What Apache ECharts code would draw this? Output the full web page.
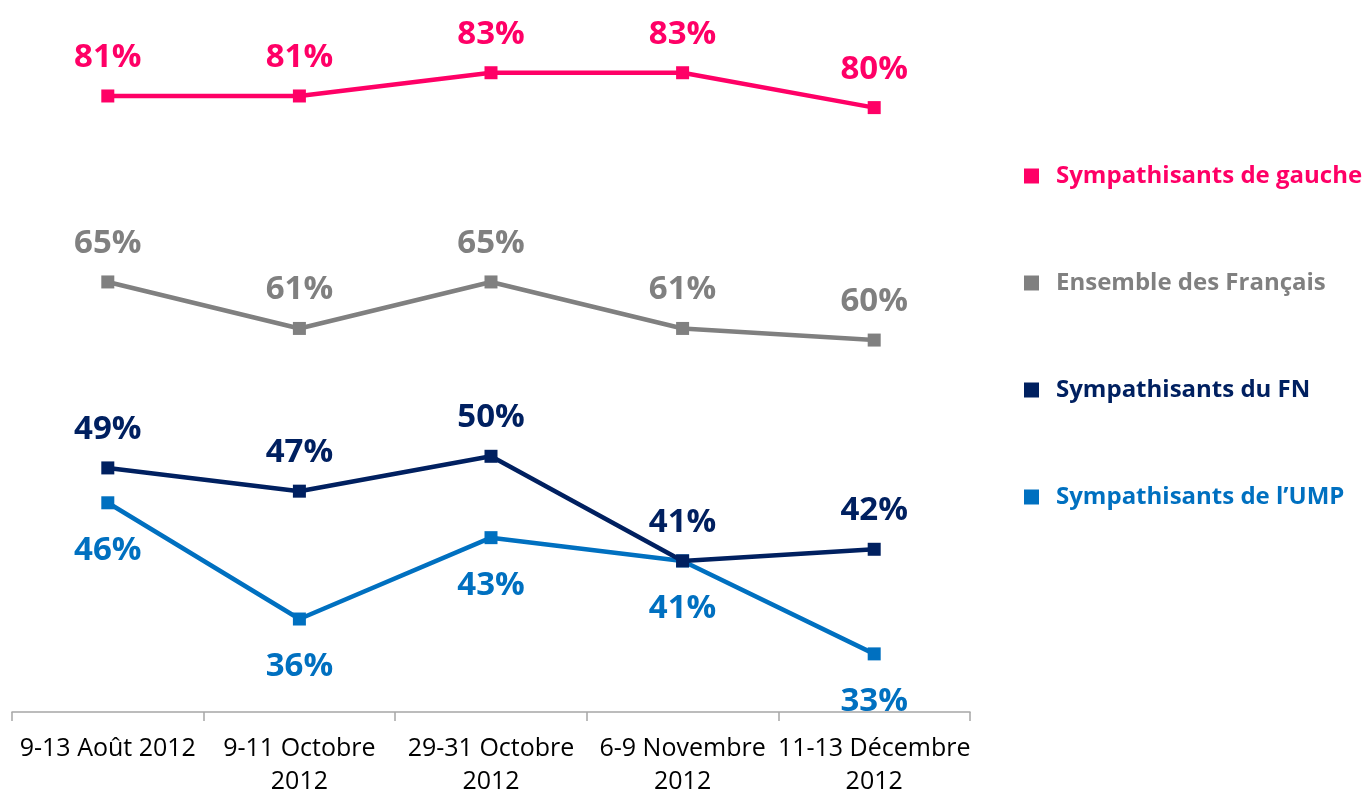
<!DOCTYPE html>
<html>
<head>
<meta charset="utf-8">
<script src="https://cdn.jsdelivr.net/npm/echarts@6/dist/echarts.min.js"></script>
<style>
  html, body { margin: 0; padding: 0; background: #fff; }
  #chart { width: 1367px; height: 793px; }
</style>
</head>
<body>
<div id="chart"></div>
<script>
// dates des vagues
const categories = [
  '9-13 Août 2012',
  '9-11 Octobre\n2012',
  '29-31 Octobre\n2012',
  '6-9 Novembre\n2012',
  '11-13 Décembre\n2012'
];
const gauche = [81, 81, 83, 83, 80];
const ensemble = [65, 61, 65, 61, 60];
const fn = [49, 47, 50, 41, 42];
const ump = [46, 36, 43, 41, 33];

const names = [
  'Sympathisants de gauche',
  'Ensemble des Français',
  'Sympathisants du FN',
  "Sympathisants de l’UMP"
];
const colors = ['#FF0066', '#808080', '#002060', '#0070C0'];

var myChart = echarts.init(document.getElementById('chart'));

function makeSeries(name, data, color, pos, dist, z) {
  return {
    name: name,
    type: 'line',
    data: data,
    z: z,
    symbol: 'rect',
    symbolSize: 13,
    itemStyle: { color: color },
    lineStyle: { color: color, width: 4.5 },
    label: {
      show: true,
      position: pos,
      distance: dist,
      formatter: '{c}%',
      color: color,
      fontFamily: 'Open Sans',
      fontWeight: 'bold',
      fontSize: 33,
      lineHeight: 34
    },
    animation: false
  };
}

const option = {
  backgroundColor: '#fff',
  animation: false,
  grid: {
    left: 12,
    right: 397,
    top: 51,
    bottom: 81,
    containLabel: false,
    outerBoundsMode: 'none'
  },
  legend: {
    orient: 'vertical',
    left: 1019,
    top: 157,
    itemWidth: 15,
    itemHeight: 15,
    itemGap: 79,
    icon: 'rect',
    data: names.map(function (n, i) {
      return { name: n, textStyle: { color: colors[i] } };
    }),
    textStyle: {
      fontFamily: 'Open Sans',
      fontWeight: 'bold',
      fontSize: 24,
      lineHeight: 28,
      padding: [0, 0, 0, 12]
    }
  },
  xAxis: {
    type: 'category',
    data: categories,
    boundaryGap: true,
    axisLine: { lineStyle: { color: '#A6A6A6', width: 1.5 } },
    axisTick: { show: true, length: 9, lineStyle: { color: '#A6A6A6', width: 1.5 } },
    axisLabel: {
      color: '#000',
      fontFamily: 'Open Sans',
      fontSize: 25,
      lineHeight: 33,
      margin: 20,
      interval: 0
    }
  },
  yAxis: {
    type: 'value',
    min: 28,
    max: 84.87,
    show: false,
    splitLine: { show: false }
  },
  series: [
    makeSeries(names[0], gauche, colors[0], 'top', 15, 2),
    makeSeries(names[1], ensemble, colors[1], 'top', 15, 2),
    makeSeries(names[3], ump, colors[3], 'bottom', 24, 2),
    makeSeries(names[2], fn, colors[2], 'top', 15, 3)
  ]
};
myChart.setOption(option);
</script>
</body>
</html>
